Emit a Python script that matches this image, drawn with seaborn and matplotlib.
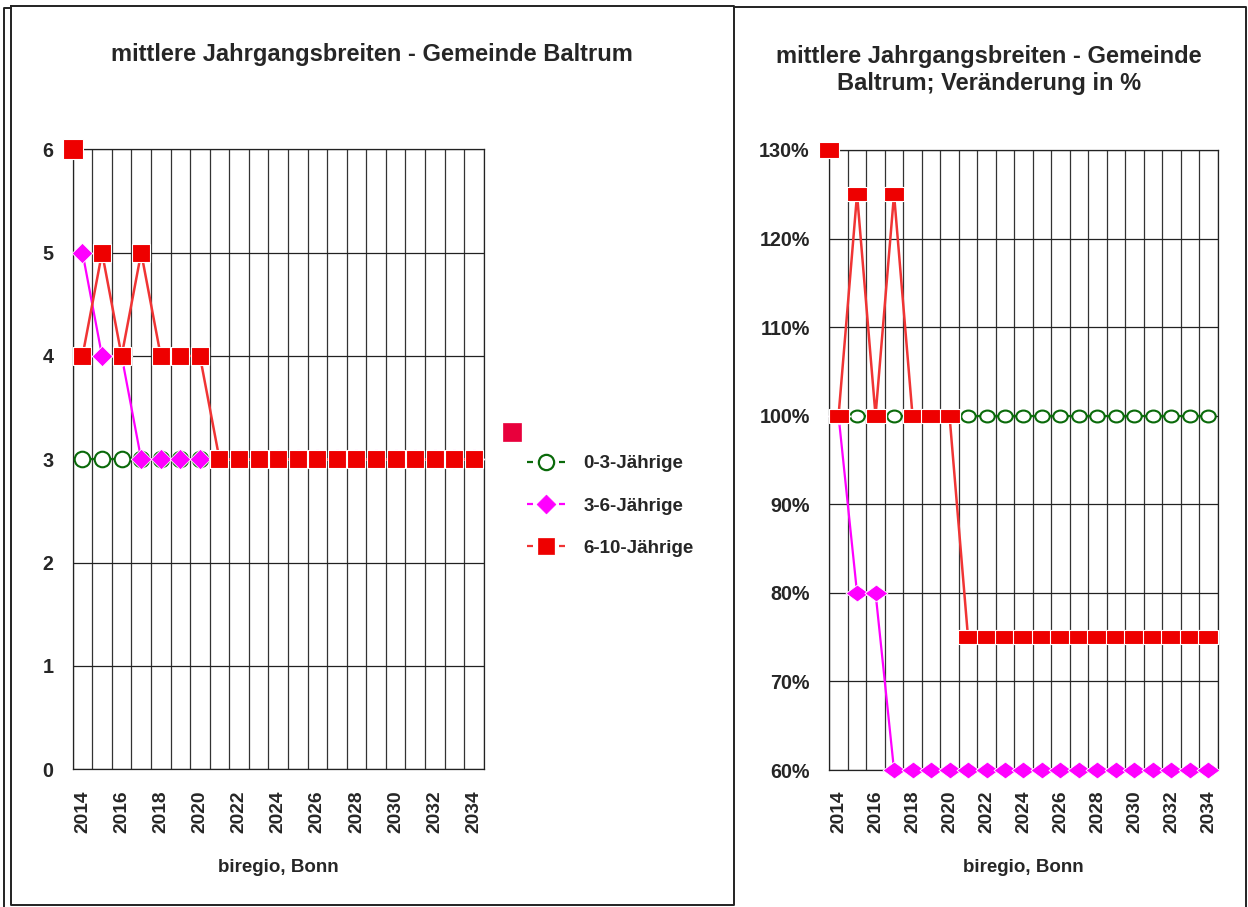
import numpy as np
import pandas as pd
import seaborn as sns
import matplotlib.pyplot as plt
from matplotlib.path import Path
from matplotlib.lines import Line2D
from matplotlib.ticker import FixedLocator, MultipleLocator, FuncFormatter

# ------------------------------
# Data
# ------------------------------
years = list(range(2014, 2035))
series_names = ["0-3-Jährige", "3-6-Jährige", "6-10-Jährige"]

width_0_3 = [3] * 21
width_3_6 = [5, 4, 4, 3, 3, 3, 3, 3, 3, 3, 3, 3, 3, 3, 3, 3, 3, 3, 3, 3, 3]
width_6_10 = [4, 5, 4, 5, 4, 4, 4, 3, 3, 3, 3, 3, 3, 3, 3, 3, 3, 3, 3, 3, 3]

pct_0_3 = [100] * 21
pct_3_6 = [100, 80, 80, 60, 60, 60, 60, 60, 60, 60, 60, 60, 60, 60, 60, 60, 60, 60, 60, 60, 60]
pct_6_10 = [100, 125, 100, 125, 100, 100, 100, 75, 75, 75, 75, 75, 75, 75, 75, 75, 75, 75, 75, 75, 75]

left_title = "mittlere Jahrgangsbreiten - Gemeinde Baltrum"
right_title = "mittlere Jahrgangsbreiten - Gemeinde\nBaltrum; Veränderung in %"
source = "biregio, Bonn"

df_abs = pd.DataFrame({"pos": range(len(years)), "year": years,
                       series_names[0]: width_0_3, series_names[1]: width_3_6,
                       series_names[2]: width_6_10})
df_pct = pd.DataFrame({"pos": range(len(years)), "year": years,
                       series_names[0]: pct_0_3, series_names[1]: pct_3_6,
                       series_names[2]: pct_6_10})

# ------------------------------
# Style
# ------------------------------
sns.set_style("white")
plt.rcParams["font.family"] = ["Liberation Sans", "DejaVu Sans"]
plt.rcParams["font.weight"] = "bold"

W, H = 1248, 907
fig = plt.figure(figsize=(W / 100, H / 100), dpi=100)

GREEN = "#0a6a0a"
MAGENTA = "#ff00ff"
RED_LINE = "#f03434"
RED = "#ee0000"


def shape(kind, stretch):
    if kind == "square":
        v = [(-stretch, -1), (stretch, -1), (stretch, 1), (-stretch, 1), (-stretch, -1)]
        return Path(v, closed=True)
    if kind == "diamond":
        v = [(0, 1), (stretch, 0), (0, -1), (-stretch, 0), (0, 1)]
        return Path(v, closed=True)
    c = Path.unit_circle()
    return Path(c.vertices * np.array([stretch, 1.0]), c.codes)


def draw_panel(ax, df, stretch, sizes, ylim, ystep, fmt):
    styles = [
        dict(color=GREEN, marker=shape("circle", stretch[1]), ms=sizes[0], mfc="white",
             mec=GREEN, mew=1.5, lw=1.5),
        dict(color=MAGENTA, marker=shape("diamond", stretch[0]), ms=sizes[1], mfc=MAGENTA,
             mec="white", mew=0.6, lw=1.6),
        dict(color=RED_LINE, marker=shape("square", stretch[0]), ms=sizes[2], mfc=RED,
             mec="white", mew=0.8, lw=1.8),
    ]
    for name, st in zip(series_names, styles):
        sns.lineplot(data=df, x="pos", y=name, ax=ax, clip_on=False, zorder=3, **st)

    ax.set_xlim(-0.5, len(years) - 0.5)
    ax.set_ylim(*ylim)
    ax.xaxis.set_major_locator(FixedLocator(list(range(0, len(years), 2))))
    ax.set_xticklabels([str(y) for y in years[::2]], rotation=90)
    ax.xaxis.set_minor_locator(MultipleLocator(1, offset=0.5))
    ax.yaxis.set_major_locator(MultipleLocator(ystep))
    ax.yaxis.set_major_formatter(FuncFormatter(fmt))
    ax.grid(False)
    ax.grid(True, which="minor", axis="x", color="#333333", lw=0.9)
    ax.grid(True, which="major", axis="y", color="#222222", lw=0.9)
    ax.set_axisbelow(True)
    ax.tick_params(axis="x", which="both", length=0, pad=15, labelsize=13.8)
    ax.tick_params(axis="y", length=0, pad=14, labelsize=14.2)
    for lab in ax.get_xticklabels() + ax.get_yticklabels():
        lab.set_fontweight("bold")
    for sp in ax.spines.values():
        sp.set_visible(True)
        sp.set_color("#222222")
        sp.set_linewidth(0.9)
    ax.set_ylabel("")
    ax.set_xlabel(source, fontsize=13.5, fontweight="bold")
    ax.xaxis.label.set_va("center")
    ax.xaxis.set_label_coords(0.5, -0.158)
    # stray marker sitting in the top-left corner of the plot area
    ax.plot(ax.get_xlim()[0], ax.get_ylim()[1], ls="none", marker=shape("square", stretch[0]),
            ms=sizes[2] + 1.0, mfc=RED, mec="white", mew=0.8, clip_on=False, zorder=4)
    if ax.get_legend() is not None:
        ax.get_legend().remove()


ax1 = fig.add_axes([72.7 / W, 1 - 769.3 / H, 411 / W, 620 / H])
draw_panel(ax1, df_abs, (1.0, 1.0), (11.2, 14.8, 12.8), (0, 6), 1,
           lambda v, p: f"{v:.0f}")

ax2 = fig.add_axes([829.3 / W, 1 - 770 / H, 388.4 / W, 620 / H])
draw_panel(ax2, df_pct, (1.36, 1.22), (10.4, 16.5, 14.0), (60, 130), 10,
           lambda v, p: f"{v:.0f}%")

# titles
fig.text(372 / W, 1 - 54 / H, left_title, ha="center", va="center",
         fontsize=17, fontweight="bold")
fig.text(989 / W, 1 - 70 / H, right_title, ha="center", va="center",
         fontsize=17, fontweight="bold", linespacing=1.25)

# legend
handles = [
    Line2D([], [], color=GREEN, marker=shape("circle", 1.0), ms=11, mfc="white",
           mec=GREEN, mew=1.6, lw=1.6, dashes=(2.7, 11.7)),
    Line2D([], [], color=MAGENTA, marker=shape("diamond", 1.0), ms=13.5, mfc=MAGENTA,
           mec=MAGENTA, mew=0.5, lw=1.6, dashes=(2.7, 11.7)),
    Line2D([], [], color=RED_LINE, marker=shape("square", 1.0), ms=12, mfc=RED,
           mec=RED, mew=0.5, lw=1.6, dashes=(2.7, 11.7)),
]
fig.legend(handles, series_names, loc="center left",
           bbox_to_anchor=(527 / W, 1 - 506 / H), frameon=False,
           prop={"weight": "bold", "size": 13.5}, handlelength=2.05,
           handletextpad=0.95, labelspacing=1.33, borderpad=0, borderaxespad=0)
fig.add_artist(Line2D([512 / W], [1 - 432 / H], transform=fig.transFigure, ls="none",
                      marker="s", ms=12.5, mfc="#e8003c", mec="#e8003c", mew=0.5))

# panel frames
frame_kw = dict(transform=fig.transFigure, color="#222222", lw=1.4)
fig.add_artist(Line2D([11 / W, 734 / W, 734 / W, 11 / W, 11 / W],
                      [1 - 6 / H, 1 - 6 / H, 1 - 905 / H, 1 - 905 / H, 1 - 6 / H], **frame_kw))
fig.add_artist(Line2D([4 / W, 4 / W, 11 / W], [0, 1 - 8 / H, 1 - 8 / H], **frame_kw))
fig.add_artist(Line2D([734 / W, 1246 / W, 1246 / W], [1 - 7 / H, 1 - 7 / H, 0], **frame_kw))

fig.savefig("out.png", dpi=100)
